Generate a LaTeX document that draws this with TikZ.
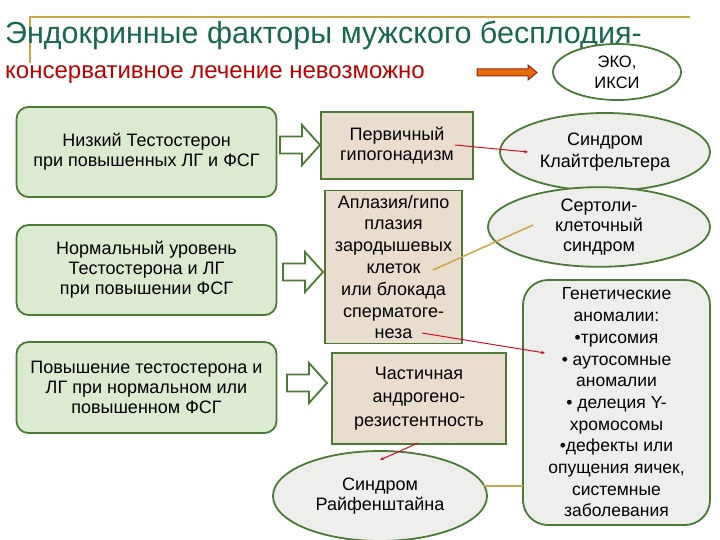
\documentclass[tikz,border=0pt]{standalone}
\usepackage{fontspec}
\setmainfont{Liberation Sans}
\usetikzlibrary{shapes.geometric,arrows.meta}
\definecolor{dg}{HTML}{4A7A35}
\definecolor{lg}{HTML}{DCEAD2}
\definecolor{tanf}{HTML}{E8DDCF}
\definecolor{eg}{HTML}{EEEEEC}
\definecolor{goldl}{HTML}{C9A646}
\definecolor{ttl}{HTML}{17684F}
\definecolor{subc}{HTML}{C00000}
\definecolor{rl}{HTML}{D01020}
\definecolor{orf}{HTML}{E46C0A}
\definecolor{ord}{HTML}{A0200A}
\tikzset{
  lbox/.style={draw=dg, fill=lg, line width=1.8pt, rounded corners=12pt, align=center, inner sep=0pt, font=\fontsize{18}{20}\selectfont},
  mbox/.style={draw=dg, fill=tanf, line width=1.8pt, align=center, inner sep=0pt, font=\fontsize{18}{20}\selectfont},
  ell/.style={ellipse, draw=dg, fill=eg, line width=1.8pt, align=center, inner sep=0pt, font=\fontsize{18}{20}\selectfont},
  gbox/.style={draw=dg, fill=eg, line width=1.8pt, rounded corners=25pt, align=center, inner sep=0pt, font=\fontsize{17.5}{21.7}\selectfont},
  redc/.style={draw=rl, line width=1pt, -{Stealth[length=4pt,width=3.5pt]}},
  goldc/.style={draw=goldl, line width=1.5pt},
  blockarrow/.pic={\draw[dg, fill=white, line width=1.8pt, line join=miter] (0,-8.5) -- (22,-8.5) -- (22,-20) -- (40,0) -- (22,20) -- (22,8.5) -- (0,8.5) -- cycle;}
}
\begin{document}
\begin{tikzpicture}[x=1pt,y=-1pt]
\useasboundingbox (0,0) rectangle (720,540);
\fill[white] (0,0) rectangle (720,540);
% top decoration lines
\coordinate (g0) at (30,63);
\coordinate (g1) at (30,17);
\coordinate (g2) at (690,17);
\draw[goldl, line width=1.5pt] (g0) -- (g1) -- (g2);
% title and subtitle
\node[anchor=base west, inner sep=0pt, text=ttl, font=\fontsize{30.5}{32}\selectfont] (title) at (5,44) {Эндокринные факторы мужского бесплодия-};
\node[anchor=base west, inner sep=0pt, text=subc, font=\fontsize{24}{26}\selectfont] (subt) at (5,79) {консервативное лечение невозможно};
% orange arrow
\draw[ord, fill=orf, line width=1pt, line join=miter] (477,69) -- (528,69) -- (528,65) -- (537,72.5) -- (528,80) -- (528,76) -- (477,76) -- cycle;
\node[ell, fill=white, minimum width=128pt, minimum height=56pt, font=\fontsize{16.5}{21}\selectfont] (eko) at (617,72) {ЭКО,\\ИКСИ};
% left boxes
\node[lbox, minimum width=260pt, minimum height=90pt] (b1) at (146.5,152) {Низкий Тестостерон\\при повышенных ЛГ и ФСГ};
\node[lbox, minimum width=260pt, minimum height=90pt] (b2) at (146.5,270) {Нормальный уровень\\Тестостерона и ЛГ\\при повышении ФСГ};
\node[lbox, minimum width=260pt, minimum height=91pt] (b3) at (146.5,387.5) {Повышение тестостерона и\\ЛГ при нормальном или\\повышенном ФСГ};
% block arrows
\pic at (280,145) {blockarrow};
\pic at (283,272) {blockarrow};
\pic at (287,383) {blockarrow};
% middle boxes
\node[mbox, minimum width=152pt, minimum height=67pt] (ba) at (397,145.5) {Первичный\\гипогонадизм};
\node[mbox, minimum width=137pt, minimum height=153pt, font=\fontsize{18}{21.8}\selectfont] (bb) at (393.5,267) {Аплазия/гипо\\плазия\\зародышевых\\клеток\\или блокада\\сперматоге-\\неза};
\node[mbox, minimum width=174pt, minimum height=91pt, font=\fontsize{18}{23.5}\selectfont] (bc) at (419,398.5) {Частичная\\андрогено-\\резистентность};
% ellipses
\node[ell, minimum width=214pt, minimum height=90pt] (rf) at (380,496) {Синдром\\Райфенштайна};
\node[ell, minimum width=210pt, minimum height=78pt, font=\fontsize{18}{22}\selectfont] (kf) at (605,152) {Синдром\\Клайтфельтера};
\node[ell, minimum width=222pt, minimum height=60pt] (st) at (599,227) {Сертоли-\\клеточный\\синдром};
% genetic box
\node[gbox, minimum width=187pt, minimum height=245pt] (gen) at (616.5,402.5) {Генетические\\аномалии:\\•трисомия\\• аутосомные\\аномалии\\• делеция Y-\\хромосомы\\•дефекты или\\опущения яичек,\\системные\\заболевания};
% connectors
\coordinate (r1a) at (455,145);
\coordinate (r1b) at (528,152);
\coordinate (y1a) at (433,270);
\coordinate (y1b) at (533,225);
\coordinate (r2a) at (422,333);
\coordinate (r2b) at (545,353);
\coordinate (r3a) at (418,443);
\coordinate (r3b) at (380,460);
\coordinate (y2a) at (483,486);
\coordinate (y2b) at (523,486);
\draw[redc] (r1a) -- (r1b);
\draw[goldc] (y1a) -- (y1b);
\draw[redc] (r2a) -- (r2b);
\draw[redc] (r3a) -- (r3b);
\draw[goldc] (y2a) -- (y2b);
\end{tikzpicture}
\end{document}
